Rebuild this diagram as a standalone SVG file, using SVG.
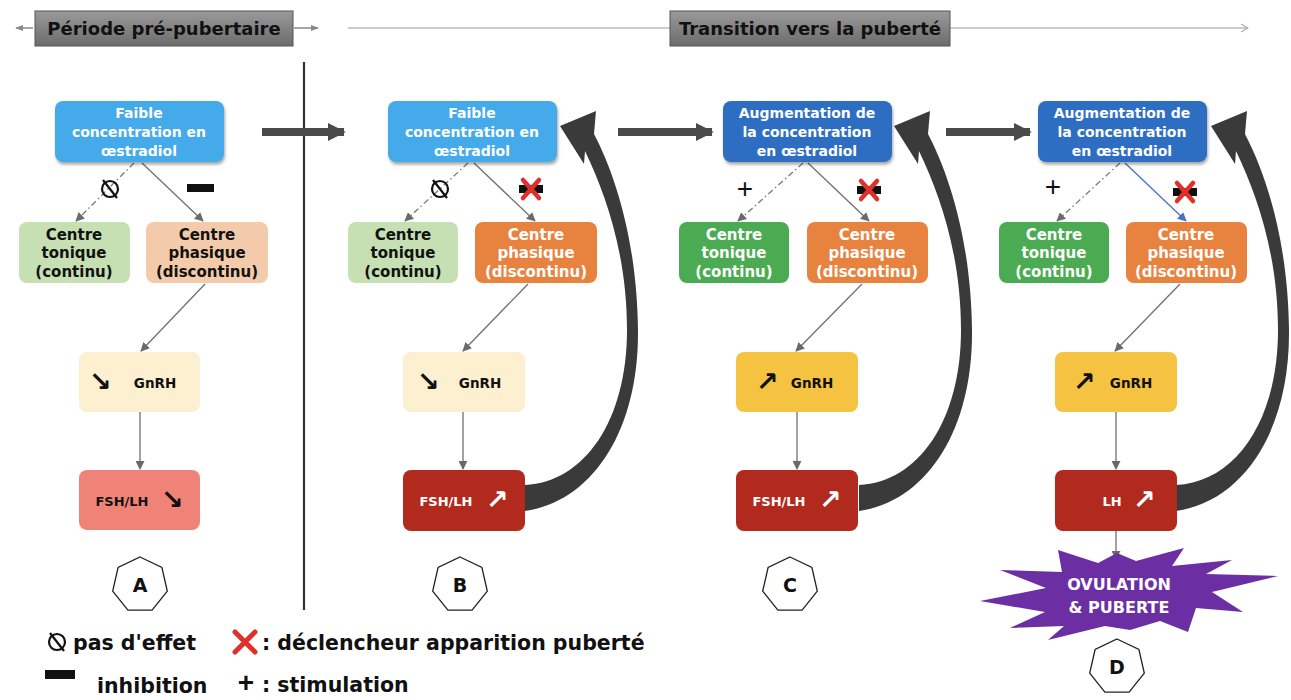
<svg xmlns="http://www.w3.org/2000/svg" width="1291" height="700" viewBox="0 0 1291 700">
<defs>
<style>
.t{font-family:"DejaVu Sans","Liberation Sans",sans-serif;font-weight:bold;text-anchor:middle}
.w{fill:#fff}
.k{fill:#111}
.top{font-size:14px}
.ctr{font-size:15px}
.hd{font-size:18px;fill:#111}
.lg{font-family:"DejaVu Sans","Liberation Sans",sans-serif;font-weight:bold;font-size:20.5px;fill:#111}
.ar{font-family:"DejaVu Sans",sans-serif;font-weight:bold;font-size:27px;text-anchor:middle}
.ln{stroke:#707070;stroke-width:1.3;fill:none}
.dd{stroke:#7a7a7a;stroke-width:1.3;fill:none;stroke-dasharray:6 3 1.5 3}
.big{fill:#3a3a3a}
.hex{fill:#fff;stroke:#222;stroke-width:1.3}
</style>
<marker id="ah" viewBox="0 0 10 10" refX="9" refY="5" markerWidth="9" markerHeight="9" markerUnits="userSpaceOnUse" orient="auto"><path d="M0,0 L10,5 L0,10 z" fill="#6a6a6a"/></marker>
<marker id="ahb" viewBox="0 0 10 10" refX="9" refY="5" markerWidth="9" markerHeight="9" markerUnits="userSpaceOnUse" orient="auto"><path d="M0,0 L10,5 L0,10 z" fill="#4472c4"/></marker>
<marker id="ahs" viewBox="0 0 10 10" refX="9" refY="5" markerWidth="8" markerHeight="8" markerUnits="userSpaceOnUse" orient="auto"><path d="M0,1 L10,5 L0,9 z" fill="#888"/></marker>
<marker id="ahc" viewBox="0 0 10 10" refX="9" refY="5" markerWidth="10" markerHeight="10" markerUnits="userSpaceOnUse" orient="auto"><path d="M2,1 L9,5 L2,9" fill="none" stroke="#aaa" stroke-width="1.2"/></marker>
<marker id="aht" viewBox="0 0 10 10" refX="9" refY="5" markerWidth="18" markerHeight="18" markerUnits="userSpaceOnUse" orient="auto"><path d="M0,0 L10,5 L0,10 z" fill="#4a4a4a"/></marker>
<linearGradient id="gg" x1="0" y1="0" x2="0" y2="1"><stop offset="0" stop-color="#9a9a9a"/><stop offset="1" stop-color="#6c6c6c"/></linearGradient>
<filter id="sh" x="-10%" y="-10%" width="130%" height="140%"><feDropShadow dx="1" dy="2.5" stdDeviation="1.8" flood-color="#000" flood-opacity="0.35"/></filter>
<polygon id="hept" points="0,-28 21.9,-17.5 27.3,6.2 12.1,25.2 -12.1,25.2 -27.3,6.2 -21.9,-17.5"/>
<g id="xbar"><rect x="-12" y="-4" width="24" height="8" fill="#111"/><path d="M-8,-9 L8,9 M8,-9 L-8,9" stroke="#e0302a" stroke-width="4.5" stroke-linecap="round"/></g>
<g id="nul"><circle cx="0" cy="0" r="8" fill="none" stroke="#111" stroke-width="2.2"/><path d="M-7,-9 L7,9" stroke="#111" stroke-width="2.2"/></g>
</defs>
<rect width="1291" height="700" fill="#fff"/>

<g id="header">
<line x1="33" y1="28" x2="16" y2="28" stroke="#888" stroke-width="1.5" marker-end="url(#ahs)"/>
<line x1="294" y1="28" x2="318" y2="28" stroke="#888" stroke-width="1.5" marker-end="url(#ahs)"/>
<line x1="348" y1="28" x2="670" y2="28" stroke="#bbb" stroke-width="1.5"/>
<line x1="950" y1="28" x2="1248" y2="28" stroke="#bbb" stroke-width="1.5" marker-end="url(#ahc)"/>
<rect x="35" y="11" width="258" height="35" fill="url(#gg)" stroke="#555" stroke-width="1"/>
<text class="t hd" x="164" y="35">Période pré-pubertaire</text>
<rect x="670" y="11" width="280" height="35" fill="url(#gg)" stroke="#555" stroke-width="1"/>
<text class="t hd" x="810" y="35">Transition vers la puberté</text>
<line x1="304" y1="62" x2="304" y2="610" stroke="#333" stroke-width="2.2"/>
</g>

<g id="connectors">
<line x1="262" y1="132" x2="344" y2="132" stroke="#4a4a4a" stroke-width="8" marker-end="url(#aht)"/>
<line x1="618" y1="132" x2="712" y2="132" stroke="#4a4a4a" stroke-width="8" marker-end="url(#aht)"/>
<line x1="946" y1="132" x2="1030" y2="132" stroke="#4a4a4a" stroke-width="8" marker-end="url(#aht)"/>
<line class="dd" x1="134" y1="163" x2="76" y2="221" marker-end="url(#ah)"/>
<line class="ln" x1="142" y1="163" x2="203" y2="221" marker-end="url(#ah)"/>
<line class="ln" x1="205" y1="284" x2="141" y2="351" marker-end="url(#ah)"/>
<line class="ln" x1="140" y1="412" x2="140" y2="469" marker-end="url(#ah)"/>
<line class="dd" x1="468" y1="163" x2="405" y2="221" marker-end="url(#ah)"/>
<line class="ln" x1="474" y1="163" x2="535" y2="221" marker-end="url(#ah)"/>
<line class="ln" x1="528" y1="284" x2="463" y2="351" marker-end="url(#ah)"/>
<line class="ln" x1="463" y1="412" x2="463" y2="469" marker-end="url(#ah)"/>
<line class="dd" x1="803" y1="163" x2="738" y2="221" marker-end="url(#ah)"/>
<line class="ln" x1="808" y1="163" x2="869" y2="221" marker-end="url(#ah)"/>
<line class="ln" x1="862" y1="284" x2="796" y2="351" marker-end="url(#ah)"/>
<line class="ln" x1="797" y1="412" x2="797" y2="469" marker-end="url(#ah)"/>
<line class="dd" x1="1120" y1="163" x2="1057" y2="221" marker-end="url(#ah)"/>
<line x1="1125" y1="163" x2="1186" y2="221" stroke="#4472c4" stroke-width="1.3" marker-end="url(#ahb)"/>
<line class="ln" x1="1180" y1="284" x2="1115" y2="351" marker-end="url(#ah)"/>
<line class="ln" x1="1116" y1="412" x2="1116" y2="469" marker-end="url(#ah)"/>
<line class="ln" x1="1116" y1="531" x2="1116" y2="559" marker-end="url(#ah)"/>
<path class="big" d="M525,511 C593,501 639,430 638,330 C637,245 617,178 594,134 L596,111 L560,126 L584,164 L585,151 C606,195 627,255 627,330 C627,420 585,482 525,485 Z"/>
<path class="big" transform="translate(334,0)" d="M525,511 C593,501 639,430 638,330 C637,245 617,178 594,134 L596,111 L560,126 L584,164 L585,151 C606,195 627,255 627,330 C627,420 585,482 525,485 Z"/>
<path class="big" transform="translate(651,0)" d="M525,511 C593,501 639,430 638,330 C637,245 617,178 594,134 L596,111 L560,126 L584,164 L585,151 C606,195 627,255 627,330 C627,420 585,482 525,485 Z"/>
</g>

<g id="markers">
<use href="#nul" x="110" y="189"/>
<rect x="187" y="184" width="27" height="8" fill="#111"/>
<use href="#nul" x="440" y="189"/>
<use href="#xbar" x="531" y="189"/>
<text x="745" y="198" font-family="Liberation Sans,Arial,sans-serif" font-size="28" text-anchor="middle" fill="#111">+</text>
<use href="#xbar" x="869" y="190"/>
<text x="1053" y="196" font-family="Liberation Sans,Arial,sans-serif" font-size="28" text-anchor="middle" fill="#111">+</text>
<use href="#xbar" x="1185" y="192"/>
</g>

<g id="colA">
<g id="A-top"><rect x="55" y="101" width="169" height="61" rx="8" fill="#45aaea" filter="url(#sh)"/>
<text class="t top w" x="139" y="118">Faible</text><text class="t top w" x="139" y="137">concentration en</text><text class="t top w" x="139" y="156">œstradiol</text></g>
<g id="A-ton"><rect x="19" y="222" width="111" height="61" rx="8" fill="#c6e0b4"/>
<text class="t ctr k" x="74" y="240">Centre</text><text class="t ctr k" x="74" y="258">tonique</text><text class="t ctr k" x="74" y="277">(continu)</text></g>
<g id="A-pha"><rect x="146" y="222" width="122" height="61" rx="8" fill="#f4cbaa"/>
<text class="t ctr k" x="207" y="240">Centre</text><text class="t ctr k" x="207" y="258">phasique</text><text class="t ctr k" x="207" y="277">(discontinu)</text></g>
<g id="A-gnrh"><rect x="79" y="352" width="121" height="60" rx="8" fill="#fdf0d0"/>
<text class="ar k" x="100" y="391">↘</text><text class="t k" x="155" y="388" font-size="13.5">GnRH</text></g>
<g id="A-fsh"><rect x="79" y="470" width="121" height="60" rx="8" fill="#ef8378"/>
<text class="t k" x="122" y="506" font-size="13">FSH/LH</text><text class="ar k" x="172" y="509">↘</text></g>
<g id="A-lab"><use href="#hept" x="140" y="585" class="hex"/><text class="t k" x="140" y="592" font-size="19">A</text></g>
</g>

<g id="colB">
<g id="B-top"><rect x="388" y="101" width="169" height="61" rx="8" fill="#45aaea" filter="url(#sh)"/>
<text class="t top w" x="472" y="118">Faible</text><text class="t top w" x="472" y="137">concentration en</text><text class="t top w" x="472" y="156">œstradiol</text></g>
<g id="B-ton"><rect x="348" y="222" width="110" height="61" rx="8" fill="#c6e0b4"/>
<text class="t ctr k" x="403" y="240">Centre</text><text class="t ctr k" x="403" y="258">tonique</text><text class="t ctr k" x="403" y="277">(continu)</text></g>
<g id="B-pha"><rect x="475" y="222" width="122" height="61" rx="8" fill="#e8823f"/>
<text class="t ctr w" x="536" y="240">Centre</text><text class="t ctr w" x="536" y="258">phasique</text><text class="t ctr w" x="536" y="277">(discontinu)</text></g>
<g id="B-gnrh"><rect x="403" y="352" width="122" height="60" rx="8" fill="#fdf0d0"/>
<text class="ar k" x="428" y="391">↘</text><text class="t k" x="480" y="388" font-size="13.5">GnRH</text></g>
<g id="B-fsh"><rect x="403" y="470" width="122" height="61" rx="8" fill="#b22a1e"/>
<text class="t w" x="446" y="506" font-size="13">FSH/LH</text><text class="ar w" x="497" y="509">↗</text></g>
<g id="B-lab"><use href="#hept" x="460" y="585" class="hex"/><text class="t k" x="460" y="592" font-size="19">B</text></g>
</g>

<g id="colC">
<g id="C-top"><rect x="723" y="101" width="169" height="61" rx="8" fill="#2e6ec2" filter="url(#sh)"/>
<text class="t top w" x="807" y="118">Augmentation de</text><text class="t top w" x="807" y="137">la concentration</text><text class="t top w" x="807" y="156">en œstradiol</text></g>
<g id="C-ton"><rect x="679" y="222" width="110" height="61" rx="8" fill="#4aab52"/>
<text class="t ctr w" x="734" y="240">Centre</text><text class="t ctr w" x="734" y="258">tonique</text><text class="t ctr w" x="734" y="277">(continu)</text></g>
<g id="C-pha"><rect x="807" y="222" width="121" height="61" rx="8" fill="#e8823f"/>
<text class="t ctr w" x="867" y="240">Centre</text><text class="t ctr w" x="867" y="258">phasique</text><text class="t ctr w" x="867" y="277">(discontinu)</text></g>
<g id="C-gnrh"><rect x="736" y="352" width="122" height="60" rx="8" fill="#f5c242"/>
<text class="ar k" x="767" y="391">↗</text><text class="t k" x="812" y="388" font-size="13.5">GnRH</text></g>
<g id="C-fsh"><rect x="736" y="470" width="122" height="61" rx="8" fill="#b22a1e"/>
<text class="t w" x="779" y="506" font-size="13">FSH/LH</text><text class="ar w" x="830" y="509">↗</text></g>
<g id="C-lab"><use href="#hept" x="790" y="585" class="hex"/><text class="t k" x="790" y="592" font-size="19">C</text></g>
</g>

<g id="colD">
<g id="D-top"><rect x="1038" y="101" width="169" height="61" rx="8" fill="#2e6ec2" filter="url(#sh)"/>
<text class="t top w" x="1122" y="118">Augmentation de</text><text class="t top w" x="1122" y="137">la concentration</text><text class="t top w" x="1122" y="156">en œstradiol</text></g>
<g id="D-ton"><rect x="999" y="222" width="110" height="61" rx="8" fill="#4aab52"/>
<text class="t ctr w" x="1054" y="240">Centre</text><text class="t ctr w" x="1054" y="258">tonique</text><text class="t ctr w" x="1054" y="277">(continu)</text></g>
<g id="D-pha"><rect x="1126" y="222" width="121" height="61" rx="8" fill="#e8823f"/>
<text class="t ctr w" x="1186" y="240">Centre</text><text class="t ctr w" x="1186" y="258">phasique</text><text class="t ctr w" x="1186" y="277">(discontinu)</text></g>
<g id="D-gnrh"><rect x="1055" y="352" width="122" height="60" rx="8" fill="#f5c242"/>
<text class="ar k" x="1084" y="391">↗</text><text class="t k" x="1131" y="388" font-size="13.5">GnRH</text></g>
<g id="D-lh"><rect x="1055" y="470" width="122" height="61" rx="8" fill="#b22a1e"/>
<text class="t w" x="1112" y="506" font-size="13">LH</text><text class="ar w" x="1144" y="509">↗</text></g>
<g id="D-ovul"><polygon fill="#6b2fa3" points="980,601 1046,588 1000,570 1062,572 1058,550 1098,563 1117,553 1136,561 1184,548 1172,566 1232,560 1206,574 1278,576 1212,592 1243,612 1196,608 1188,632 1160,621 1130,630 1105,626 1048,640 1064,626 1010,628 1045,612"/>
<text class="t w" x="1119" y="590" font-size="16">OVULATION</text><text class="t w" x="1119" y="613" font-size="16">&amp; PUBERTE</text></g>
<g id="D-lab"><use href="#hept" x="1117" y="667" class="hex"/><text class="t k" x="1117" y="674" font-size="19">D</text></g>
</g>

<g id="legend">
<use href="#nul" x="57" y="642"/>
<text class="lg" x="73" y="650">pas d'effet</text>
<path d="M235,632 L255,652 M255,632 L235,652" stroke="#e0302a" stroke-width="5" stroke-linecap="round"/>
<text class="lg" x="262" y="650">: déclencheur apparition puberté</text>
<rect x="45" y="670" width="30" height="9" fill="#111"/>
<text class="lg" x="97" y="693">inhibition</text>
<text x="246" y="692" font-family="Liberation Sans,Arial,sans-serif" font-weight="bold" font-size="28" text-anchor="middle" fill="#111">+</text>
<text class="lg" x="262" y="692">: stimulation</text>
</g>
</svg>
